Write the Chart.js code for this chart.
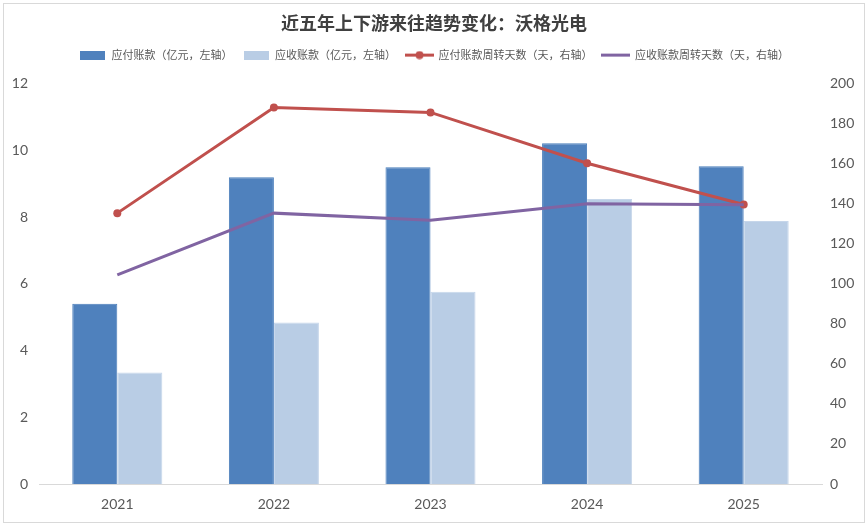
<!DOCTYPE html>
<html>
<head>
<meta charset="utf-8">
<script src="https://cdn.jsdelivr.net/npm/chart.js@4/dist/chart.umd.min.js"></script>
<style>
html,body{margin:0;padding:0;background:#fff;}
#wrap{position:relative;width:868px;height:526px;}
</style>
</head>
<body>
<div id="wrap"><canvas id="c" width="868" height="526"></canvas></div>
<script>
const categories = ['2021', '2022', '2023', '2024', '2025'];
const payableAmount = [5.40, 9.19, 9.49, 10.21, 9.52];
const receivableAmount = [3.34, 4.84, 5.76, 8.54, 7.88];
const payableDays = [135.3, 188.0, 185.6, 160.2, 139.6];
const receivableDays = [104.5, 135.3, 131.8, 140.0, 139.5];
const seriesNames = ['应付账款（亿元，左轴）', '应收账款（亿元，左轴）', '应付账款周转天数（天，右轴）', '应收账款周转天数（天，右轴）'];
const titleText = '近五年上下游来往趋势变化：沃格光电';

const C_DARK = '#4f81bd', C_LIGHT = '#b9cde5', C_RED = '#c0504d', C_PURPLE = '#8064a2';

function rectIcon(color) {
  const cv = document.createElement('canvas');
  cv.width = 25; cv.height = 9;
  const x = cv.getContext('2d');
  x.fillStyle = color; x.fillRect(0, 0, 25, 9);
  return cv;
}
function lineIcon(color, marker) {
  const cv = document.createElement('canvas');
  cv.width = 29; cv.height = 9;
  const x = cv.getContext('2d');
  x.strokeStyle = color; x.lineWidth = 3;
  x.beginPath(); x.moveTo(0, 4.5); x.lineTo(29, 4.5); x.stroke();
  if (marker) { x.fillStyle = color; x.beginPath(); x.arc(14.5, 4.5, 4, 0, Math.PI * 2); x.fill(); }
  return cv;
}
const icons = [rectIcon(C_DARK), rectIcon(C_LIGHT), lineIcon(C_RED, true), lineIcon(C_PURPLE, false)];

const borderPlugin = {
  id: 'outerBorder',
  beforeDraw(chart) {
    const ctx = chart.ctx;
    ctx.save();
    ctx.fillStyle = '#fff';
    ctx.fillRect(0, 0, chart.width, chart.height);
    ctx.strokeStyle = '#d9d9d9';
    ctx.lineWidth = 1;
    ctx.strokeRect(3.5, 3.5, chart.width - 7, chart.height - 7);
    ctx.restore();
  }
};

const legendGapPlugin = {
  id: 'legendGap',
  beforeLayout(chart) {
    const lg = chart.legend;
    if (lg && !lg._gapPatched) {
      const orig = lg.fit;
      lg.fit = function () { orig.call(this); this.height += 13; };
      lg._gapPatched = true;
    }
  }
};

new Chart(document.getElementById('c'), {
  data: {
    labels: categories,
    datasets: [
      { type: 'bar', label: seriesNames[0], data: payableAmount, backgroundColor: C_DARK, borderColor: '#4a7ebb', borderWidth: 1, yAxisID: 'y', order: 2, categoryPercentage: 0.575, barPercentage: 1.0 },
      { type: 'bar', label: seriesNames[1], data: receivableAmount, backgroundColor: C_LIGHT, borderColor: '#c6d6ea', borderWidth: 1, yAxisID: 'y', order: 2, categoryPercentage: 0.575, barPercentage: 1.0 },
      { type: 'line', label: seriesNames[2], data: payableDays, borderColor: C_RED, backgroundColor: C_RED, borderWidth: 3, pointRadius: 4, pointBackgroundColor: C_RED, pointBorderWidth: 0, tension: 0, yAxisID: 'y1', order: 1 },
      { type: 'line', label: seriesNames[3], data: receivableDays, borderColor: C_PURPLE, backgroundColor: C_PURPLE, borderWidth: 3, pointRadius: 0, tension: 0, yAxisID: 'y1', order: 0 }
    ]
  },
  options: {
    responsive: false,
    animation: false,
    events: [],
    layout: { padding: { top: 4, left: 0, right: 0, bottom: 0 } },
    plugins: {
      tooltip: { enabled: false },
      title: {
        display: true, text: titleText, color: '#404040',
        font: { family: '"Noto Sans CJK SC", sans-serif', size: 18, weight: 'bold' },
        padding: { top: 8, bottom: 6 }
      },
      legend: {
        display: true, position: 'top',
        labels: {
          usePointStyle: true, pointStyleWidth: 27, boxHeight: 9,
          padding: 10, color: '#595959',
          font: { family: '"Noto Sans CJK SC", sans-serif', size: 11 },
          generateLabels(chart) {
            return chart.data.datasets.map((ds, i) => ({
              text: ds.label, pointStyle: icons[i], fillStyle: 'transparent', strokeStyle: 'transparent',
              lineWidth: 0, hidden: false, datasetIndex: i, fontColor: '#595959'
            }));
          }
        }
      }
    },
    scales: {
      x: {
        grid: { display: false, drawTicks: false },
        border: { display: true, color: '#d9d9d9', width: 1 },
        ticks: { color: '#595959', padding: 12, font: { family: 'Lato, sans-serif', size: 14 } },
        afterFit(axis) { axis.height = 42; }
      },
      y: {
        position: 'left', min: 0, max: 12,
        grid: { display: false, drawTicks: false },
        border: { display: false },
        ticks: { stepSize: 2, color: '#595959', padding: 11, font: { family: 'Lato, sans-serif', size: 14 } },
        afterFit(axis) { axis.width = 39; }
      },
      y1: {
        position: 'right', min: 0, max: 200,
        grid: { display: false, drawTicks: false },
        border: { display: false },
        ticks: { stepSize: 20, color: '#595959', padding: 8, font: { family: 'Lato, sans-serif', size: 14 } },
        afterFit(axis) { axis.width = 46; }
      }
    }
  },
  plugins: [borderPlugin, legendGapPlugin]
});
</script>
</body>
</html>
